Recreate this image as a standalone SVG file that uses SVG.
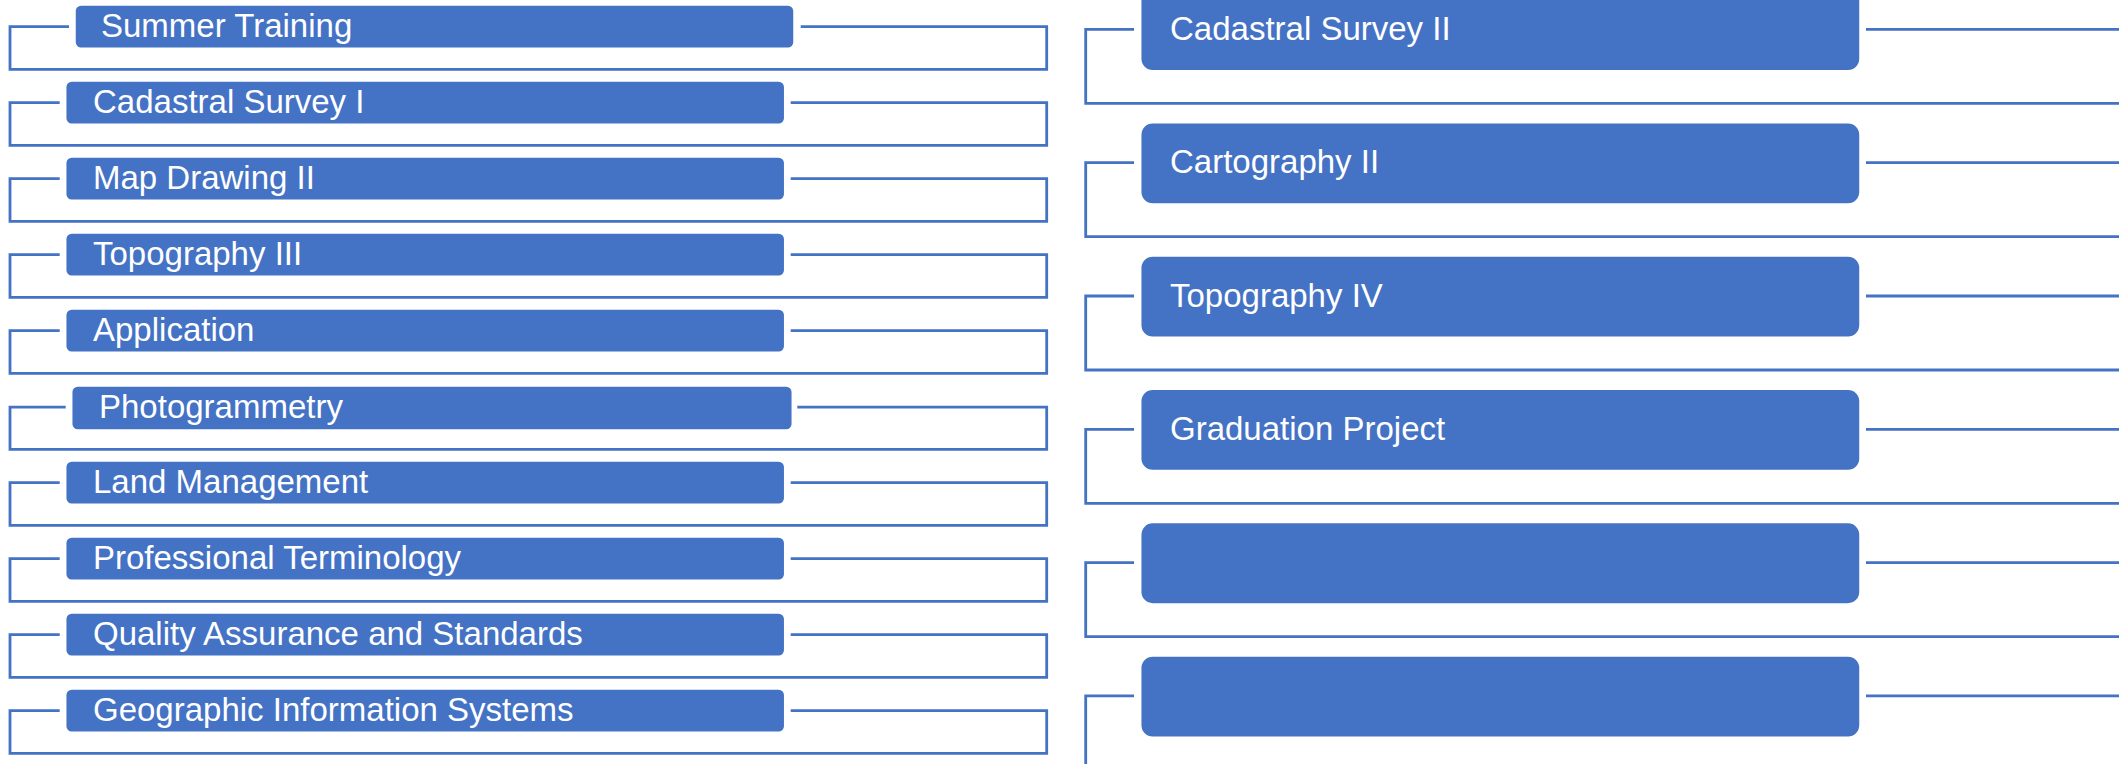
<svg xmlns="http://www.w3.org/2000/svg" width="2119" height="764" viewBox="0 0 2119 764">
<style>
.box{fill:#4472C4;stroke:#ffffff;stroke-width:1.5}
.conn{fill:none;stroke:#4472C4;stroke-width:2.8}
.lbl{font-family:"Liberation Sans",Arial,sans-serif;font-size:33px;fill:#ffffff}
</style>
<rect width="2119" height="764" fill="#ffffff"/>
<g id="connectors">
<path class="conn" d="M69 26.7 H10 V69.3 H1046.7 V26.7 H800.7"/>
<path class="conn" d="M59.7 102.7 H10 V145.3 H1046.7 V102.7 H790.7"/>
<path class="conn" d="M59.7 178.7 H10 V221.3 H1046.7 V178.7 H790.7"/>
<path class="conn" d="M59.7 254.7 H10 V297.3 H1046.7 V254.7 H790.7"/>
<path class="conn" d="M59.7 330.7 H10 V373.3 H1046.7 V330.7 H790.7"/>
<path class="conn" d="M65.7 407.2 H10 V449.3 H1046.7 V407.2 H797.3"/>
<path class="conn" d="M59.7 482.7 H10 V525.3 H1046.7 V482.7 H790.7"/>
<path class="conn" d="M59.7 558.7 H10 V601.3 H1046.7 V558.7 H790.7"/>
<path class="conn" d="M59.7 634.7 H10 V677.3 H1046.7 V634.7 H790.7"/>
<path class="conn" d="M59.7 710.7 H10 V753.3 H1046.7 V710.7 H790.7"/>
<path class="conn" d="M1134 29.4 H1085.7 V103.4 H2140 V29.4 H1866"/>
<path class="conn" d="M1134 162.7 H1085.7 V236.7 H2140 V162.7 H1866"/>
<path class="conn" d="M1134 296 H1085.7 V370 H2140 V296 H1866"/>
<path class="conn" d="M1134 429.3 H1085.7 V503.3 H2140 V429.3 H1866"/>
<path class="conn" d="M1134 562.6 H1085.7 V636.6 H2140 V562.6 H1866"/>
<path class="conn" d="M1134 695.9 H1085.7 V769.9 H2140 V695.9 H1866"/>
</g>
<g id="n1"><rect class="box" x="75" y="5" width="719" height="43.3" rx="6"/><text class="lbl" x="101" y="37">Summer Training</text></g>
<g id="n2"><rect class="box" x="65.7" y="81" width="719" height="43.3" rx="6"/><text class="lbl" x="93" y="113">Cadastral Survey I</text></g>
<g id="n3"><rect class="box" x="65.7" y="157" width="719" height="43.3" rx="6"/><text class="lbl" x="93" y="189">Map Drawing II</text></g>
<g id="n4"><rect class="box" x="65.7" y="233" width="719" height="43.3" rx="6"/><text class="lbl" x="93" y="265">Topography III</text></g>
<g id="n5"><rect class="box" x="65.7" y="309" width="719" height="43.3" rx="6"/><text class="lbl" x="93" y="341">Application</text></g>
<g id="n6"><rect class="box" x="71.7" y="386" width="720.6" height="44" rx="6"/><text class="lbl" x="99" y="418">Photogrammetry</text></g>
<g id="n7"><rect class="box" x="65.7" y="461" width="719" height="43.3" rx="6"/><text class="lbl" x="93" y="493">Land Management</text></g>
<g id="n8"><rect class="box" x="65.7" y="537" width="719" height="43.3" rx="6"/><text class="lbl" x="93" y="569">Professional Terminology</text></g>
<g id="n9"><rect class="box" x="65.7" y="613" width="719" height="43.3" rx="6"/><text class="lbl" x="93" y="645">Quality Assurance and Standards</text></g>
<g id="n10"><rect class="box" x="65.7" y="689" width="719" height="43.3" rx="6"/><text class="lbl" x="93" y="721">Geographic Information Systems</text></g>
<g id="r1"><rect class="box" x="1140.7" y="-10.6" width="719.3" height="81.3" rx="12"/><text class="lbl" x="1170" y="40">Cadastral Survey II</text></g>
<g id="r2"><rect class="box" x="1140.7" y="122.7" width="719.3" height="81.3" rx="12"/><text class="lbl" x="1170" y="173.3">Cartography II</text></g>
<g id="r3"><rect class="box" x="1140.7" y="256" width="719.3" height="81.3" rx="12"/><text class="lbl" x="1170" y="306.6">Topography IV</text></g>
<g id="r4"><rect class="box" x="1140.7" y="389.3" width="719.3" height="81.3" rx="12"/><text class="lbl" x="1170" y="440">Graduation Project</text></g>
<g id="r5"><rect class="box" x="1140.7" y="522.6" width="719.3" height="81.3" rx="12"/></g>
<g id="r6"><rect class="box" x="1140.7" y="655.9" width="719.3" height="81.3" rx="12"/></g>
</svg>
